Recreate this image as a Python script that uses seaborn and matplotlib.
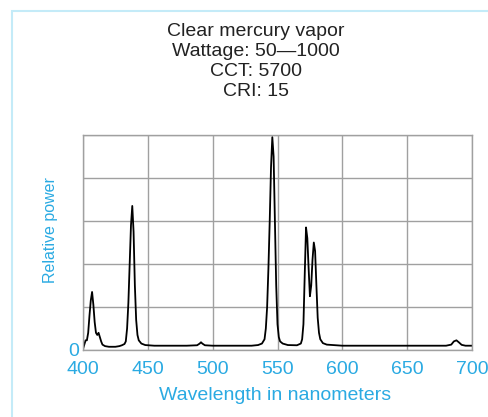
import matplotlib
matplotlib.use("Agg")
import matplotlib.pyplot as plt
import seaborn as sns
import pandas as pd
from matplotlib.patches import Rectangle

# spectrum (wavelength nm, relative power 0-100)
wavelength = [400, 401, 402, 403, 404, 405, 406, 407, 408, 409, 410, 411, 412, 413, 414, 415, 417,
              420, 425, 428, 430, 432, 433, 434, 435, 436, 437, 438, 439, 440, 441, 442, 443, 445,
              448, 455, 480, 488, 490, 491, 492, 494, 500, 530, 535, 538, 540, 541, 542, 543, 544,
              545, 546, 547, 548, 549, 550, 551, 552, 554, 558, 565, 568, 569, 570, 571, 572, 573,
              574, 575, 576, 577, 578, 579, 580, 581, 582, 583, 585, 588, 600, 650, 680, 684, 686,
              688, 690, 692, 695, 700]
power = [0.5, 2.5, 4.5, 4.5, 8, 16, 23, 27, 21, 13, 8, 7, 8, 6, 4, 2.5, 1.8,
         1.5, 1.5, 1.8, 2.2, 2.8, 4, 10, 22, 40, 58, 67, 55, 30, 14, 7, 4.5, 3,
         2.3, 2, 2, 2.2, 3, 3.6, 3, 2.2, 2, 2, 2.3, 3, 5, 10, 20, 38, 60,
         85, 99, 90, 60, 30, 12, 6, 4, 3, 2.3, 2.2, 3, 5, 12, 35, 57, 52,
         38, 25, 30, 42, 50, 46, 30, 15, 8, 5, 3.2, 2.5, 2, 2, 2, 2.5, 4,
         4.5, 3.5, 2.4, 2, 2]

title_lines = ["Clear mercury vapor", "Wattage: 50\u20141000", "CCT: 5700", "CRI: 15"]
x_ticks = [400, 450, 500, 550, 600, 650, 700]
y_ticks = [0, 20, 40, 60, 80, 100]
y_tick_labels = ["0", "", "", "", "", ""]

cyan = "#2aaae2"
grid_gray = "#a0a0a0"

sns.set_theme(style="whitegrid")
plt.rcParams['font.family'] = ['Liberation Sans', 'DejaVu Sans']

df = pd.DataFrame({"wavelength": wavelength, "power": power})

fig = plt.figure(figsize=(4.89, 4.17), dpi=100)
ax = fig.add_axes([83 / 489, 67 / 417, 389 / 489, 215 / 417])

sns.lineplot(data=df, x="wavelength", y="power", ax=ax, color="black", linewidth=1.3)

ax.set_xlim(400, 700)
ax.set_ylim(0, 100)
ax.set_xticks(x_ticks)
ax.set_xticklabels([str(t) for t in x_ticks])
ax.set_yticks(y_ticks)
ax.set_yticklabels(y_tick_labels)
ax.grid(True, color=grid_gray, linewidth=1.0)
for s in ax.spines.values():
    s.set_color(grid_gray)
    s.set_linewidth(1.0)
ax.tick_params(axis="x", length=0, pad=8, labelsize=14, labelcolor=cyan)
ax.tick_params(axis="y", length=0, pad=3, labelsize=14, labelcolor=cyan)

ax.set_xlabel("Wavelength in nanometers", fontsize=14, color=cyan)
ax.set_ylabel("Relative power", fontsize=11.5, color=cyan)
ax.xaxis.set_label_coords(0.494, -0.172)
ax.yaxis.set_label_coords(-0.064, 0.558)

# title block, one line at a time
for i, line in enumerate(title_lines):
    fig.text(256 / 489, 1 - (32 + 20 * i) / 417, line, ha="center", va="center",
             fontsize=14, color="#222222")

# light cyan frame around the page
fig.add_artist(Rectangle((12 / 489, -0.2), 2, 0.2 + (1 - 11 / 417), transform=fig.transFigure,
                         fill=False, edgecolor="#c4ebf8", linewidth=1.5))

fig.savefig("out.png", dpi=100)
